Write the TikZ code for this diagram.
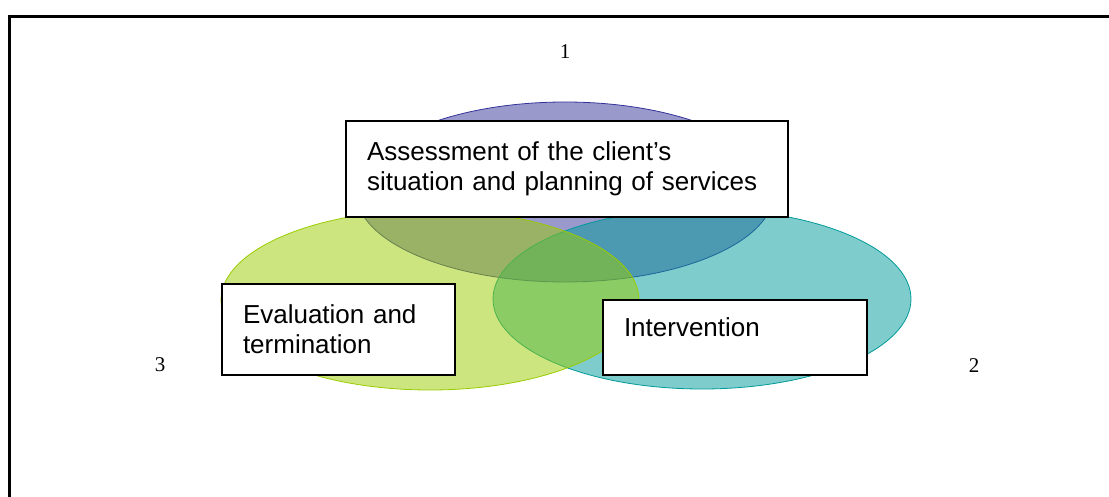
\documentclass[tikz,border=0pt]{standalone}
\usepackage{fontspec}
\setmainfont{Liberation Sans}
\newfontfamily\numfont{Liberation Serif}
\usetikzlibrary{shapes.geometric}
\definecolor{cpurple}{RGB}{51,51,153}
\definecolor{cteal}{RGB}{0,153,153}
\definecolor{cgreen}{RGB}{153,204,0}
\tikzset{
  venn/.style={ellipse, inner sep=0pt, minimum width=418pt, minimum height=180pt, fill opacity=0.5, line width=0.8pt},
  box/.style={draw=black, line width=2pt, fill=white, anchor=north west, inner xsep=21pt, inner ysep=0pt, align=left, font=\fontsize{26}{30}\selectfont},
  num/.style={font=\numfont\fontsize{21}{24}\selectfont}
}
\begin{document}
\begin{tikzpicture}[x=1pt,y=-1pt]
\useasboundingbox (0,0) rectangle (1109,497);
\draw[line width=3pt] (9.5,497) -- (9.5,16.5) -- (1109,16.5);
\node[venn, draw=cpurple, fill=cpurple] (e1) at (565,192) {};
\node[venn, draw=cteal, fill=cteal] (e2) at (702,299) {};
\node[venn, draw=cgreen, fill=cgreen] (e3) at (430,300) {};
\node[box, minimum width=442pt, minimum height=96pt, text width=400pt] (b1) at (345,120) {Assessment of the client’s\\situation and planning of services};
\node[box, minimum width=233pt, minimum height=91pt, text width=191pt] (b3) at (221,283) {Evaluation and\\termination};
\node[box, minimum width=264pt, minimum height=75pt, text width=222pt, text height=18pt, text depth=21pt] (b2) at (602,299) {Intervention};
\node[num] (n1) at (565,51.5) {1};
\node[num] (n2) at (974,366) {2};
\node[num] (n3) at (160,365) {3};
\end{tikzpicture}
\end{document}
